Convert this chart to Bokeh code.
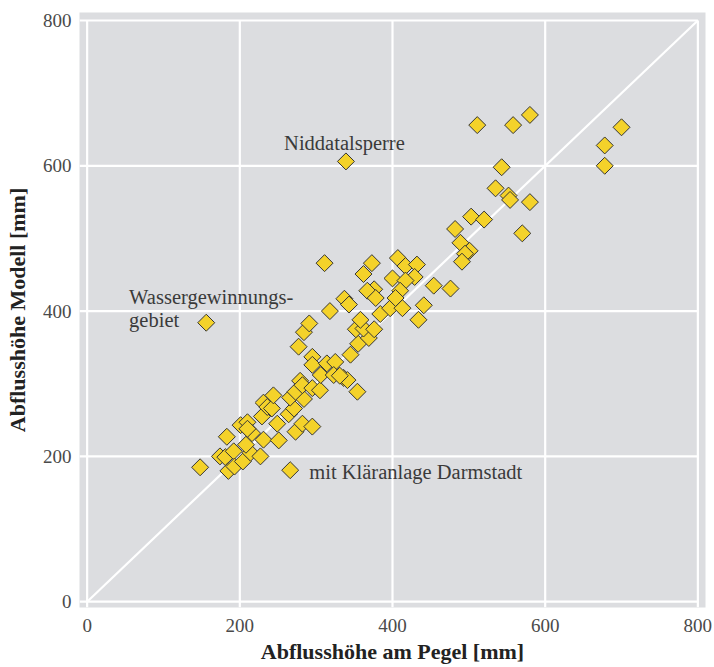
import math
from bokeh.plotting import figure
from bokeh.models import Range1d, FixedTicker, ColumnDataSource
from bokeh.core.properties import value
from bokeh.embed import file_html
from bokeh.resources import INLINE

# --- data ---
abfluss_pegel = [148, 183, 174, 181, 192, 185, 193, 204, 214, 208, 201, 210, 216, 210, 229,
                 231, 227, 231, 236, 242, 244, 249, 251, 266, 273, 282, 295, 264, 271, 266,
                 284, 273, 279, 282, 295, 305, 277, 284, 291, 295, 295, 314, 325, 306, 323,
                 336, 341, 354, 345, 355, 369, 352, 362, 376, 358, 384, 397, 413, 434, 441,
                 318, 337, 343, 311, 373, 362, 407, 417, 432, 429, 400, 417, 410, 404, 376,
                 367, 378, 454, 476, 482, 503, 520, 489, 501, 495, 491, 535, 552, 554, 580,
                 570, 543, 511, 558, 580, 678, 678, 700, 339, 156, 331]
abfluss_modell = [185, 227, 200, 199, 207, 180, 186, 193, 205, 216, 243, 247, 232, 238, 255,
                  223, 200, 274, 268, 266, 284, 245, 222, 181, 234, 245, 241, 258, 266, 281,
                  279, 289, 304, 298, 294, 291, 351, 371, 383, 337, 326, 328, 330, 312, 312,
                  308, 305, 289, 340, 355, 363, 375, 376, 375, 388, 396, 404, 404, 388, 408,
                  400, 417, 409, 466, 466, 451, 473, 462, 464, 447, 445, 442, 428, 418, 430,
                  428, 418, 435, 431, 513, 530, 526, 494, 483, 479, 468, 569, 559, 553, 550,
                  507, 598, 656, 656, 670, 600, 628, 653, 606, 384, 311]

tick_values = [0, 200, 400, 600, 800]

ann_text = ["Niddatalsperre", "Wassergewinnungs-", "gebiet", "mit Kläranlage Darmstadt"]
ann_x = [258, 55, 55, 291]
ann_y = [631, 419, 388, 178]

# --- styling ---
SERIF = "Liberation Serif"
PANEL = "#dcdde0"
FILL = "#f4d22a"
EDGE = "#353535"

p = figure(width=714, height=667, output_backend="svg", toolbar_location=None,
           x_range=Range1d(-10, 810), y_range=Range1d(-8, 811),
           min_border_left=79, min_border_right=9, min_border_top=12, min_border_bottom=60)
p.background_fill_color = PANEL
p.border_fill_color = "white"
p.outline_line_color = None
p.xgrid.visible = False
p.ygrid.visible = False

# grid lines (end at the last tick, like the reference)
tmax = max(tick_values)
p.segment(x0=tick_values, y0=[p.y_range.start] * len(tick_values), x1=tick_values,
          y1=[tmax] * len(tick_values), line_color="white", line_width=2.2)
p.segment(x0=[p.x_range.start] * len(tick_values), y0=tick_values,
          x1=[tmax] * len(tick_values), y1=tick_values, line_color="white", line_width=2.2)
# 1:1 line
p.line(x=[tick_values[0], tick_values[-1]], y=[tick_values[0], tick_values[-1]],
       line_color="white", line_width=2.2)

src = ColumnDataSource(dict(x=abfluss_pegel, y=abfluss_modell))
p.scatter("x", "y", source=src, marker="square", size=12, angle=math.pi / 4,
          fill_color=FILL, line_color=EDGE, line_width=1)

p.text(x=ann_x, y=ann_y, text=ann_text, text_font=value(SERIF), text_font_size="20.5px",
       text_color="#3a3a3a", text_align="left", text_baseline="alphabetic")

for ax in (p.xaxis[0], p.yaxis[0]):
    ax.ticker = FixedTicker(ticks=tick_values)
    ax.axis_line_color = None
    ax.major_tick_line_color = None
    ax.minor_tick_line_color = None
    ax.major_tick_out = 0
    ax.major_tick_in = 0
    ax.major_label_text_font = SERIF
    ax.major_label_text_font_size = "19px"
    ax.major_label_text_color = "#4a4a4a"
    ax.axis_label_text_font = SERIF
    ax.axis_label_text_font_style = "bold"
    ax.axis_label_text_font_size = "22px"
    ax.axis_label_text_color = "#222222"

p.xaxis.axis_label = "Abflusshöhe am Pegel [mm]"
p.yaxis.axis_label = "Abflusshöhe Modell [mm]"
p.xaxis.major_label_standoff = 11
p.xaxis.axis_label_standoff = 4
p.yaxis.major_label_standoff = 8
p.yaxis.axis_label_standoff = 10

open("out.html", "w").write(file_html(p, INLINE))
